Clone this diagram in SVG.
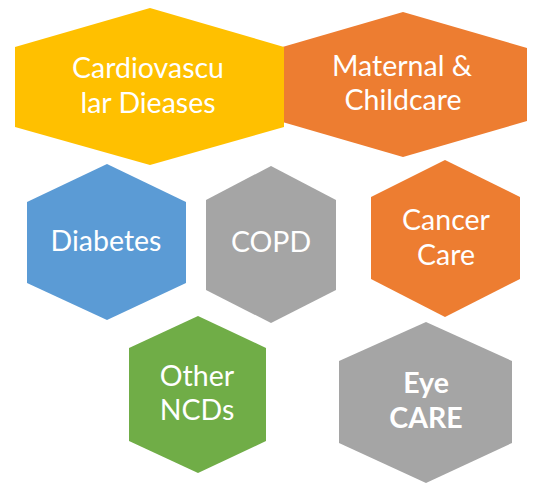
<svg xmlns="http://www.w3.org/2000/svg" width="553" height="485" viewBox="0 0 553 485">
<style>
.t{font-family:Lato,"Open Sans","Liberation Sans",sans-serif;font-size:28.5px;fill:#fff;text-anchor:middle}
.b{font-weight:bold}
</style>
<rect width="553" height="485" fill="#fff"/>
<g id="maternal">
<polygon points="403,12 527,48 527,121 403,157 279,121 279,48" fill="#ED7D31"/>
<text class="t" x="402" y="76">Maternal &amp;</text>
<text class="t" x="403" y="110">Childcare</text>
</g>
<g id="cardio">
<polygon points="150,8 284,47 284,127 150,165 15,127 15,47" fill="#FFC000"/>
<text class="t" x="148" y="78">Cardiovascu</text>
<text class="t" x="148" y="113">lar Dieases</text>
</g>
<g id="diabetes">
<polygon points="107,164 186,202 186,283 107,320 27,283 27,202" fill="#5B9BD5"/>
<text class="t" x="106" y="251">Diabetes</text>
</g>
<g id="copd">
<polygon points="271,166 336,200 336,290 271,323 206,290 206,200" fill="#A5A5A5"/>
<text class="t" x="271" y="252">COPD</text>
</g>
<g id="cancer">
<polygon points="445,160 520,197 520,279 445,317 371,279 371,197" fill="#ED7D31"/>
<text class="t" x="446" y="230">Cancer</text>
<text class="t" x="446" y="265">Care</text>
</g>
<g id="other">
<polygon points="198,316 266,348 266,441 198,473 129,441 129,348" fill="#70AD47"/>
<text class="t" x="197" y="386">Other</text>
<text class="t" x="197" y="420">NCDs</text>
</g>
<g id="eye">
<polygon points="426,322 512,361 512,443 426,483 339,443 339,361" fill="#A5A5A5"/>
<text class="t b" x="426" y="393">Eye</text>
<text class="t b" x="426" y="428">CARE</text>
</g>
<g id="connectors"/>
</svg>
